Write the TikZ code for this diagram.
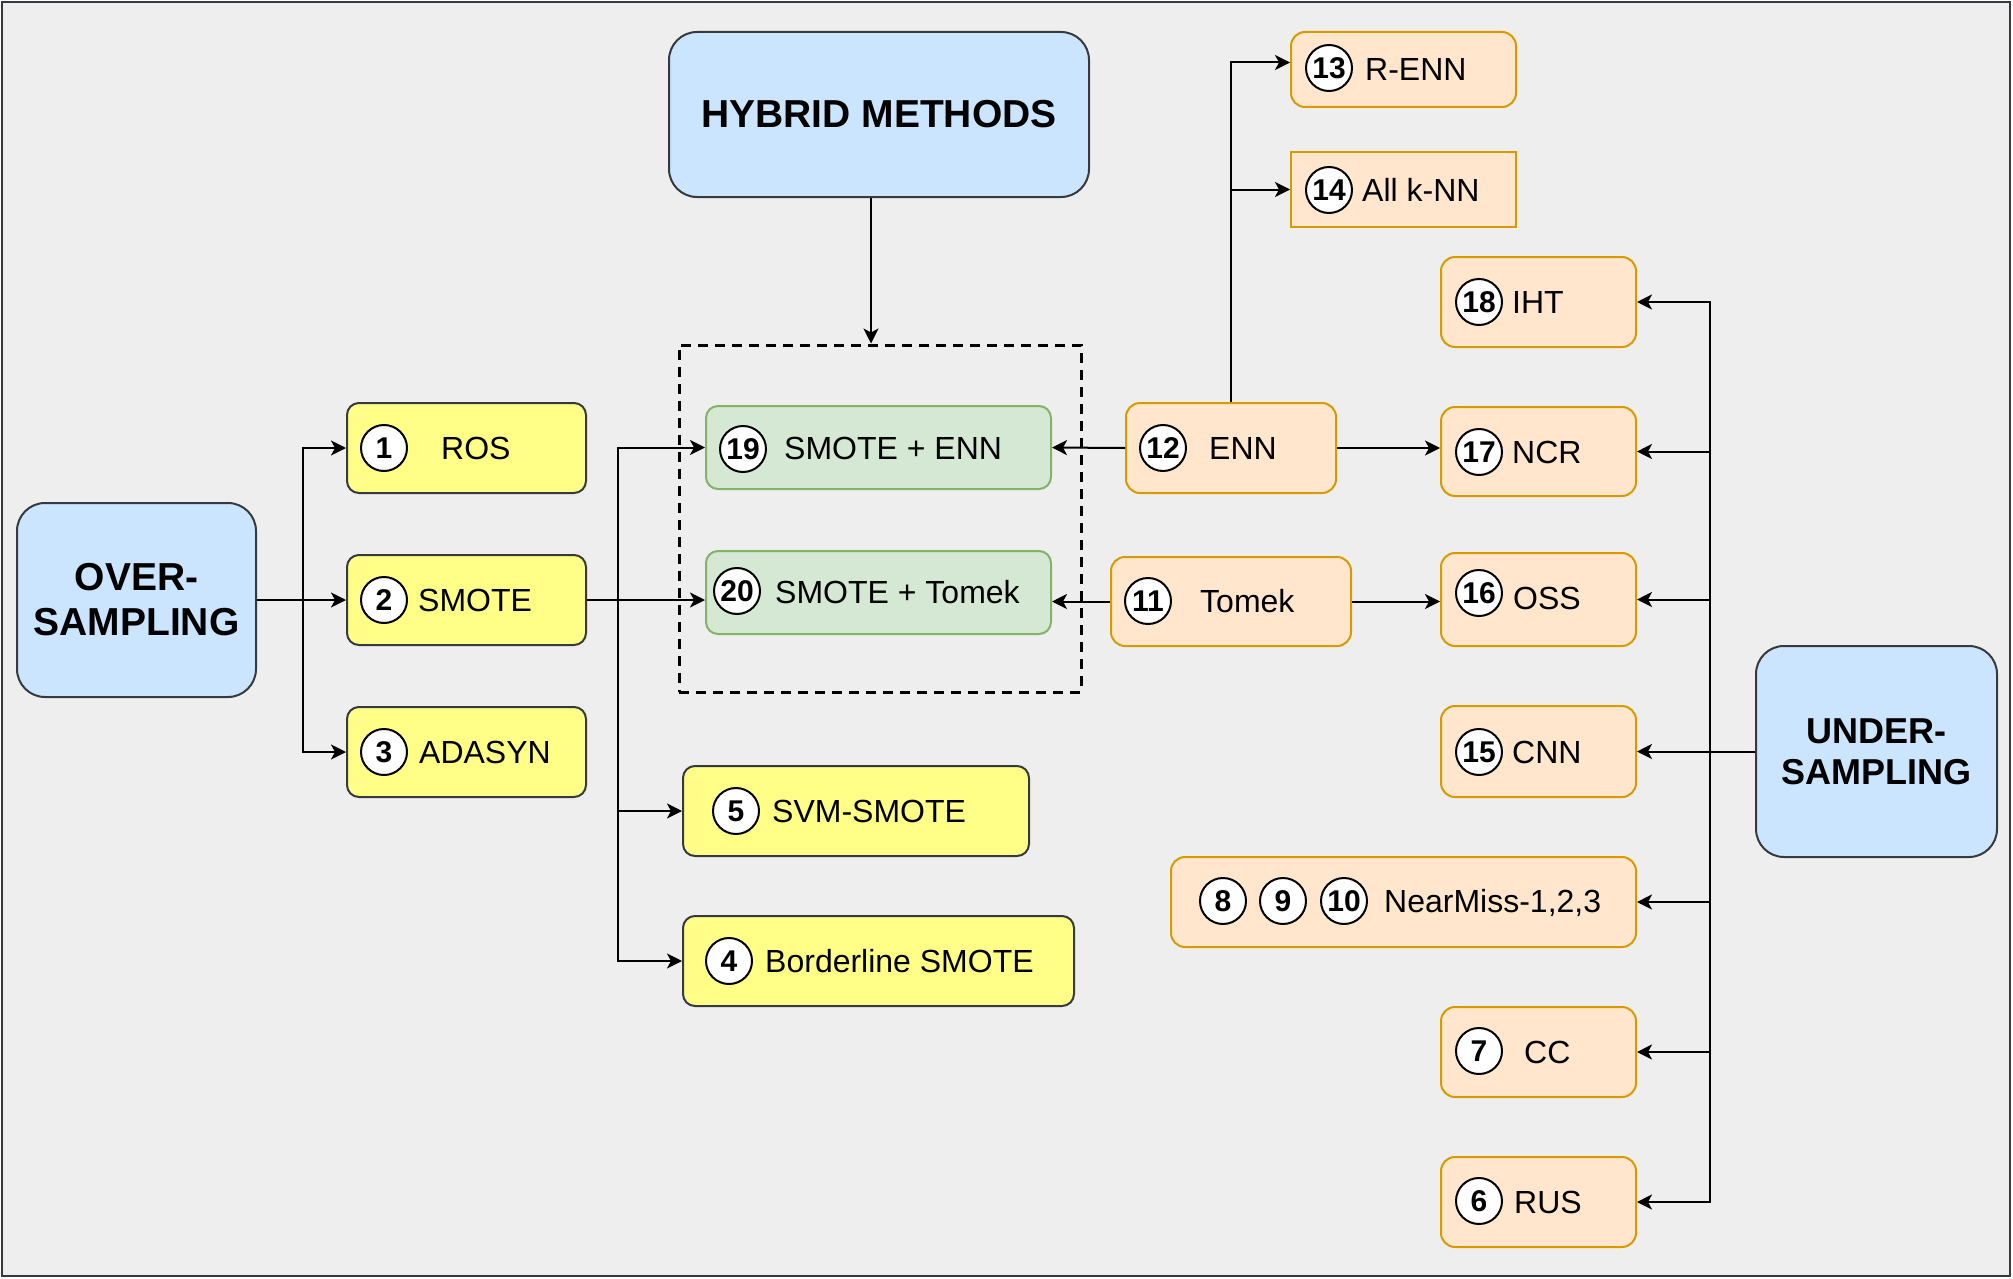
\documentclass[tikz,border=0pt]{standalone}
\usepackage{fontspec}
\setmainfont{Liberation Sans}
\usetikzlibrary{arrows.meta}
\definecolor{bgray}{HTML}{EEEEEE}
\definecolor{frame}{HTML}{36393D}
\definecolor{blufill}{HTML}{CCE5FF}
\definecolor{ylwfill}{HTML}{FFFF88}
\definecolor{grnfill}{HTML}{D5E8D4}
\definecolor{grnline}{HTML}{82B366}
\definecolor{orgfill}{HTML}{FFE6CC}
\definecolor{orgline}{HTML}{D79B00}
\tikzset{
  box/.style={draw, line width=2pt, inner sep=0pt},
  blubox/.style={box, draw=frame, fill=blufill, rounded corners=28pt, align=center},
  ylwbox/.style={box, draw=frame, fill=ylwfill, rounded corners=12pt, minimum height=90pt},
  grnbox/.style={box, draw=grnline, fill=grnfill, rounded corners=12pt, minimum height=83pt},
  orgbox/.style={box, draw=orgline, fill=orgfill, rounded corners=14pt, minimum height=90pt},
  num/.style={circle, draw=black, fill=white, line width=2pt, minimum size=46pt,
    inner sep=0pt, font=\bfseries\fontsize{30}{30}\selectfont, text height=21.5pt, text depth=0pt},
  lbl/.style={anchor=west, inner sep=0pt, font=\fontsize{32}{38}\selectfont,
    text height=23pt, text depth=0pt},
  conn/.style={line width=2pt, -{Stealth[length=15pt,width=15pt,inset=4pt]}}
}
\begin{document}
\begin{tikzpicture}[x=1pt,y=-1pt]
  \useasboundingbox (0,0) rectangle (2013,1279);
  \draw[draw=frame, fill=bgray, line width=2pt] (2,2) rectangle (2010,1276);

  % main groups
  \node[blubox, minimum width=239pt, minimum height=194pt, font=\bfseries\fontsize{39}{45}\selectfont]
    (over) at (136.5,600) {OVER-\\SAMPLING};
  \node[blubox, minimum width=420pt, minimum height=165pt, font=\bfseries\fontsize{39}{45}\selectfont]
    (hybrid) at (879,114.5) {HYBRID METHODS};
  \node[blubox, minimum width=241pt, minimum height=211pt, font=\bfseries\fontsize{36}{41}\selectfont]
    (under) at (1876.5,751.5) {UNDER-\\SAMPLING};

  % over-sampling
  \node[ylwbox, minimum width=239pt] (ros) at (466.5,448) {};
  \node[ylwbox, minimum width=239pt] (smote) at (466.5,600) {};
  \node[ylwbox, minimum width=239pt] (adasyn) at (466.5,752) {};
  \node[ylwbox, minimum width=346pt] (svm) at (856,811) {};
  \node[ylwbox, minimum width=391pt] (bsmote) at (878.5,961) {};

  % hybrid
  \node[draw, line width=3pt, dash pattern=on 10pt off 7pt, minimum width=402pt, minimum height=347pt]
    (mix) at (880,518.5) {};
  \node[grnbox, minimum width=345pt] (senn) at (878.5,447.5) {};
  \node[grnbox, minimum width=345pt] (stomek) at (878.5,592.5) {};

  % under-sampling
  \node[orgbox, minimum width=210pt] (enn) at (1231,448) {};
  \node[orgbox, minimum width=240pt, minimum height=89pt] (tomek) at (1231,601.5) {};
  \node[orgbox, minimum width=225pt, minimum height=75pt] (renn) at (1403.5,69.5) {};
  \node[orgbox, rounded corners=0pt, minimum width=225pt, minimum height=75pt] (aknn) at (1403.5,189.5) {};
  \node[orgbox, minimum width=195pt] (iht) at (1538.5,302) {};
  \node[orgbox, minimum width=195pt, minimum height=89pt] (ncr) at (1538.5,451.5) {};
  \node[orgbox, minimum width=195pt, minimum height=93pt] (oss) at (1538.5,599.5) {};
  \node[orgbox, minimum width=195pt, minimum height=91pt] (cnn) at (1538.5,751.5) {};
  \node[orgbox, minimum width=465pt] (nmiss) at (1403.5,902) {};
  \node[orgbox, minimum width=195pt] (cc) at (1538.5,1052) {};
  \node[orgbox, minimum width=195pt] (rus) at (1538.5,1202) {};

  % numbers and names
  \foreach \n/\x/\y in {1/384/448, 2/384/600, 3/384/752, 5/736/811, 4/729/961,
      19/743/449, 20/737/591, 12/1163/448, 11/1148/601, 13/1329/68, 14/1329/190,
      18/1479/302, 17/1479/452, 16/1479/593, 15/1479/752, 8/1223/901, 9/1283/901,
      10/1344/901, 7/1479/1051, 6/1479/1201}
    \node[num] (n\n) at (\x,\y) {\n};
  \foreach \x/\y/\txt [count=\i] in {441/448/ROS, 418/600/SMOTE, 419/752/ADASYN,
      772/811/SVM-SMOTE, 765/961/Borderline SMOTE, 784/448/SMOTE + ENN,
      775/592/SMOTE + Tomek, 1209/448/ENN, 1200/601/Tomek, 1365/69/R-ENN,
      1362/190/All k-NN, 1512/302/IHT, 1512/452/NCR, 1513/598/OSS, 1512/752/CNN,
      1384/901/{NearMiss-1,2,3}, 1524/1052/CC, 1514/1202/RUS}
    \node[lbl] (t\i) at (\x,\y) {\txt};

  % connectors
  \draw[conn] (over.east) -- ++(46,0) |- (ros.west);
  \draw[conn] (over.east) -- (smote.west);
  \draw[conn] (over.east) -- ++(46,0) |- (adasyn.west);
  \draw[conn] (smote.east) -- ++(31,0) |- (senn.west);
  \draw[conn] (smote.east) -- (smote.east -| stomek.west);
  \draw[conn] (smote.east) -- ++(31,0) |- (svm.west);
  \draw[conn] (smote.east) -- ++(31,0) |- (bsmote.west);
  \draw[conn] ([xshift=-8pt]hybrid.south) -- ([xshift=-8pt]hybrid.south |- mix.north);
  \draw[conn] (enn.west) -- (senn.east);
  \draw[conn] (tomek.west) -- (tomek.west -| stomek.east);
  \draw[conn] (enn.north) |- ([yshift=7pt]renn.west);
  \draw[conn] (enn.north) |- (aknn.west);
  \draw[conn] (enn.east) -- (enn.east -| ncr.west);
  \draw[conn] (tomek.east) -- (tomek.east -| oss.west);
  \draw[conn] (under.west) -- (cnn.east);
  \foreach \t in {iht,ncr,oss,nmiss,cc,rus}
    \draw[conn] (under.west) -- ++(-45,0) |- (\t.east);
\end{tikzpicture}
\end{document}
